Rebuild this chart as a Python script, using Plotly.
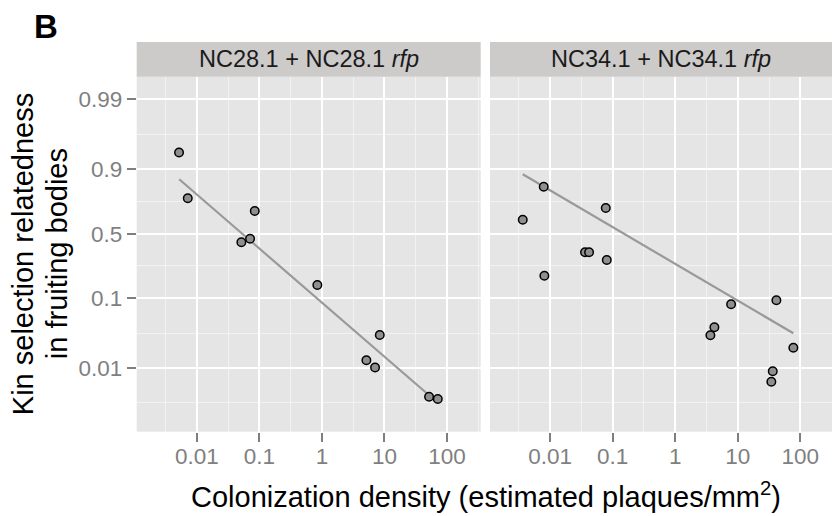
import numpy as np
import plotly.graph_objects as go

# Colonization density (plaques/mm^2) and kin selection relatedness per strain pair
nc28_density = [0.00521, 0.00718, 0.0845, 0.0516, 0.0711, 0.845, 8.41, 5.14, 7.07, 51.6, 71.1]
nc28_related = [0.941, 0.770, 0.684, 0.427, 0.457, 0.148, 0.0305, 0.0131, 0.0103, 0.00381, 0.00353]

nc34_density = [0.00792, 0.0776, 0.00366, 0.0362, 0.0420, 0.0806, 0.00811,
                7.82, 41.4, 4.23, 3.65, 77.3, 36.2, 34.4]
nc34_related = [0.832, 0.706, 0.617, 0.346, 0.346, 0.289, 0.192,
                0.0823, 0.0932, 0.0393, 0.0302, 0.0200, 0.00903, 0.00635]

# Fitted regression line end points (density, relatedness)
nc28_fit_density = [0.00524, 48.9]
nc28_fit_related = [0.865, 0.00418]
nc34_fit_density = [0.00366, 77.3]
nc34_fit_related = [0.8835, 0.0323]

panel_titles = ["NC28.1 + NC28.1 <i>rfp</i>", "NC34.1 + NC34.1 <i>rfp</i>"]

x_ticks = [0.01, 0.1, 1, 10, 100]
x_tick_text = ["0.01", "0.1", "1", "10", "100"]
y_ticks = [0.01, 0.1, 0.5, 0.9, 0.99]
y_tick_text = ["0.01", "0.1", "0.5", "0.9", "0.99"]


def logit(p):
    p = np.asarray(p, dtype=float)
    return np.log(p / (1 - p))


W, H = 832, 516
FONT = "Liberation Sans, Arial, Helvetica, sans-serif"
PANEL_BG = "#e5e5e5"
STRIP_BG = "#cdcaca"
GREY_TXT = "#7f7f7f"
TICK_SIZE = 22.5

# y axis in logit units; minor grid halfway between breaks (in logit space)
y_major = logit(y_ticks)
y_breaks_ext = np.concatenate([[logit(0.001)], y_major, [logit(0.999)]])
y_minor = (y_breaks_ext[:-1] + y_breaks_ext[1:]) / 2
y_range = [-6.759, 5.356]

x_minor = [10 ** v for v in (-2.5, -1.5, -0.5, 0.5, 1.5, 2.5)]
px_per_decade = 62.57
x_range_left = [-2.96, -2.96 + 344 / px_per_decade]
x_range_right = [-2.96, -2.96 + 342 / px_per_decade]

y_dom = [1 - 431.7 / H, 1 - 76.7 / H]
strip_y = [1 - 76.7 / H, 1 - 42 / H]

fig = go.Figure()

panels = [
    ("x", "y", nc28_density, nc28_related, nc28_fit_density, nc28_fit_related),
    ("x2", "y2", nc34_density, nc34_related, nc34_fit_density, nc34_fit_related),
]
for xa, ya, dx, dy, fx, fy in panels:
    fig.add_trace(go.Scatter(
        x=fx, y=logit(fy), mode="lines", xaxis=xa, yaxis=ya,
        line=dict(color="#999999", width=2.2), showlegend=False, hoverinfo="skip"))
    fig.add_trace(go.Scatter(
        x=dx, y=logit(dy), mode="markers", xaxis=xa, yaxis=ya,
        marker=dict(size=8.5, color="#8f8f8f", line=dict(color="#000000", width=1.5)),
        showlegend=False))

xaxis_common = dict(
    type="log", tickvals=x_ticks, ticktext=x_tick_text,
    showgrid=True, gridcolor="#ffffff", gridwidth=2, zeroline=False,
    ticks="outside", ticklen=9, tickwidth=2, tickcolor=GREY_TXT,
    ticklabelstandoff=-5,
    tickfont=dict(family=FONT, size=TICK_SIZE, color=GREY_TXT),
    minor=dict(tickvals=x_minor, showgrid=True, gridcolor="#f2f2f2", gridwidth=1, ticks=""),
    showline=False,
)
yaxis_common = dict(
    range=y_range, domain=y_dom, tickvals=list(y_major), ticktext=y_tick_text,
    showgrid=True, gridcolor="#ffffff", gridwidth=2, zeroline=False,
    minor=dict(tickvals=list(y_minor), showgrid=True, gridcolor="#f2f2f2", gridwidth=1, ticks=""),
    showline=False,
)

fig.update_layout(
    width=W, height=H,
    margin=dict(l=0, r=0, t=0, b=0),
    paper_bgcolor="#ffffff", plot_bgcolor=PANEL_BG,
    font=dict(family=FONT, color="#000000"),
    xaxis=dict(xaxis_common, domain=[136.7 / W, 480.7 / W], range=x_range_left, anchor="y"),
    xaxis2=dict(xaxis_common, domain=[490 / W, 1.0], range=x_range_right, anchor="y2"),
    yaxis=dict(yaxis_common, anchor="x", ticks="outside", ticklen=9, tickwidth=2,
               tickcolor=GREY_TXT, tickfont=dict(family=FONT, size=TICK_SIZE, color=GREY_TXT)),
    yaxis2=dict(yaxis_common, anchor="x2", matches="y", showticklabels=False, ticks=""),
)

shapes = []
annotations = []
for xa, title in zip(["x", "x2"], panel_titles):
    shapes.append(dict(type="rect", xref=f"{xa} domain", yref="paper",
                       x0=0, x1=1, y0=strip_y[0], y1=strip_y[1],
                       fillcolor=STRIP_BG, line=dict(width=0), layer="below"))
    annotations.append(dict(text=title, xref=f"{xa} domain", yref="paper",
                            x=0.5, y=(strip_y[0] + strip_y[1]) / 2,
                            xanchor="center", yanchor="middle", showarrow=False,
                            font=dict(family=FONT, size=23.5, color="#1a1a1a")))

# Axis titles
annotations.append(dict(text="Kin selection relatedness", xref="paper", yref="paper",
                        x=23 / W, y=1 - 254.2 / H, textangle=-90,
                        xanchor="center", yanchor="middle", showarrow=False,
                        font=dict(family=FONT, size=29, color="#000000")))
annotations.append(dict(text="in fruiting bodies", xref="paper", yref="paper",
                        x=57 / W, y=1 - 254.2 / H, textangle=-90,
                        xanchor="center", yanchor="middle", showarrow=False,
                        font=dict(family=FONT, size=29, color="#000000")))
annotations.append(dict(text="Colonization density (estimated plaques/mm<sup>2</sup>)",
                        xref="paper", yref="paper",
                        x=486.5 / W, y=1 - 495 / H,
                        xanchor="center", yanchor="middle", showarrow=False,
                        font=dict(family=FONT, size=29, color="#000000")))
# Panel tag
annotations.append(dict(text="<b>B</b>", xref="paper", yref="paper",
                        x=32 / W, y=1 - 27 / H, xanchor="left", yanchor="middle",
                        showarrow=False, font=dict(family=FONT, size=33, color="#000000")))

fig.update_layout(shapes=shapes, annotations=annotations)

fig.write_html("out.html")
